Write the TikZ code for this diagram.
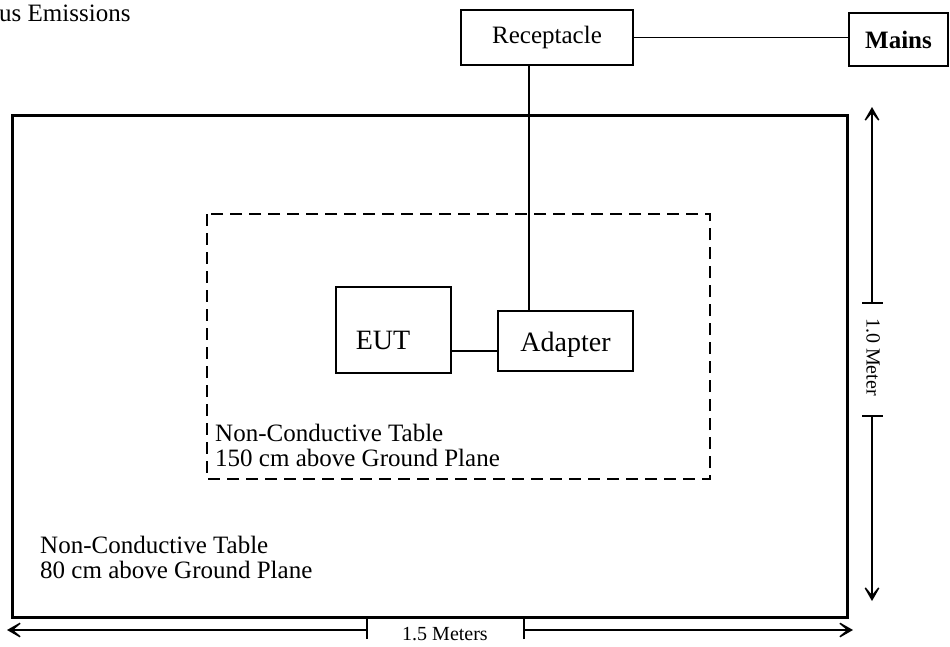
\documentclass[tikz,border=0pt]{standalone}
\usepackage{fontspec}
\setmainfont{Liberation Serif}
\usetikzlibrary{arrows.meta}
\begin{document}
\begin{tikzpicture}[x=1pt,y=-1pt,
  boxtext/.style={font=\fontsize{25}{25}\selectfont},
  bigtext/.style={font=\fontsize{28}{28}\selectfont},
  dimtext/.style={font=\fontsize{20}{20}\selectfont},
  box/.style={draw,line width=2pt,inner sep=0pt},
  conn/.style={line width=1.8pt},
  dimline/.style={line width=1.4pt},
  dimtip/.style={-{Stealth[length=20pt,width=23pt,inset=14pt]}},
  tablebox/.style={draw,line width=3pt},
  dashbox/.style={draw,line width=2.2pt,dash pattern=on 12pt off 7pt},
  lbl/.style={boxtext,anchor=north west,inner sep=0pt,align=left}
]
\useasboundingbox (0,0) rectangle (950,646);

% title fragment
\node[boxtext,anchor=base west,inner sep=0pt] (title) at (-1,21) {us Emissions};

% outer table
\draw[tablebox] (12,115) rectangle (847,617);
% inner dashed table
\draw[dashbox] (207,214) rectangle (710,479);

% boxes
\node[box,boxtext,minimum width=172pt,minimum height=55pt] (rec) at (547,37.5) {Receptacle};
\node[box,boxtext,minimum width=99pt,minimum height=53pt] (mains) at (898.5,39.5) {\bfseries Mains};
\node[box,bigtext,minimum width=115pt,minimum height=86pt,text height=38pt,text depth=0pt] (eut) at (393.5,330) {\hspace*{-21pt}EUT};
\node[box,bigtext,minimum width=135pt,minimum height=60pt,text height=20pt,text depth=0pt] (adapter) at (565.5,341) {Adapter};

% connectors
\coordinate (vx) at (529,0);
\coordinate (hy) at (0,351);
\draw[conn] (rec.east) -- (rec.east -| mains.west);
\draw[conn] (rec.south -| vx) -- (adapter.north -| vx);
\draw[conn] (eut.east |- hy) -- (adapter.west |- hy);

% table labels
\node[lbl] (inlbl) at (215,423.5) {Non-Conductive Table\\150 cm above Ground Plane};
\node[lbl] (outlbl) at (40,535.5) {Non-Conductive Table\\80 cm above Ground Plane};

% vertical dimension
\coordinate (vtop) at (872,107);
\coordinate (vt1) at (872,303);
\coordinate (vt2) at (872,416);
\coordinate (vbot) at (872,601);
\draw[dimline,dimtip] (vt1) -- (vtop);
\draw[dimline,dimtip] (vt2) -- (vbot);
\draw[dimline] ([xshift=-10pt]vt1) -- ([xshift=11pt]vt1);
\draw[dimline] ([xshift=-10pt]vt2) -- ([xshift=11pt]vt2);
\node[dimtext,rotate=-90] (vlbl) at (873,357) {1.0 Meter};

% horizontal dimension
\coordinate (hl) at (7,630);
\coordinate (ht1) at (367,630);
\coordinate (ht2) at (524,630);
\coordinate (hr) at (853,630);
\draw[dimline,dimtip] (ht1) -- (hl);
\draw[dimline,dimtip] (ht2) -- (hr);
\draw[dimline] ([yshift=-9pt]ht1) -- ([yshift=13pt]ht1);
\draw[dimline] ([yshift=-9pt]ht2) -- ([yshift=13pt]ht2);
\node[dimtext] (hlbl) at (445,634) {1.5 Meters};
\end{tikzpicture}
\end{document}
